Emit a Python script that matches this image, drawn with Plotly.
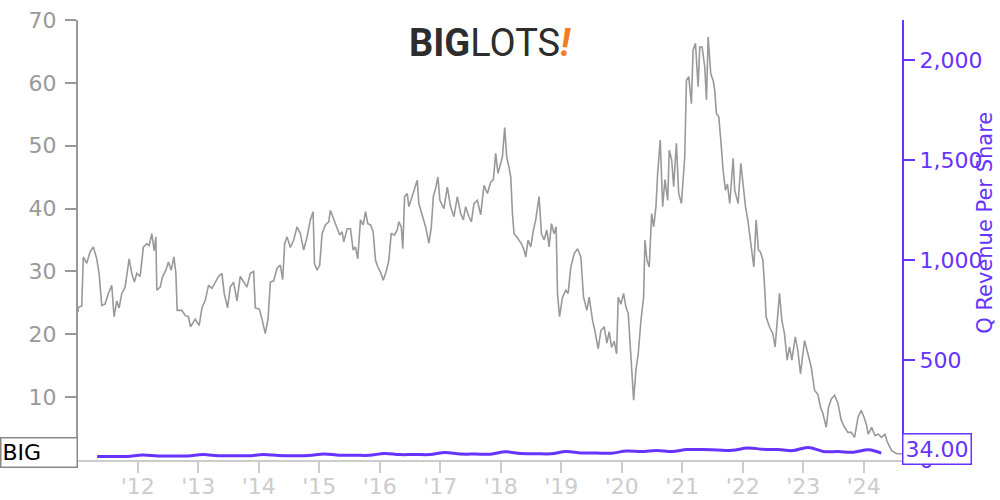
import plotly.graph_objects as go

# Stock price (left axis), x as decimal year
price_t = [2011.013, 2011.018, 2011.075, 2011.101, 2011.157, 2011.212, 2011.267, 2011.323, 2011.361, 2011.406,
           2011.460, 2011.515, 2011.571, 2011.609, 2011.654, 2011.692, 2011.737, 2011.791, 2011.820, 2011.858,
           2011.902, 2011.945, 2011.985, 2012.040, 2012.094, 2012.151, 2012.189, 2012.233, 2012.272, 2012.300,
           2012.316, 2012.371, 2012.409, 2012.465, 2012.508, 2012.553, 2012.598, 2012.631, 2012.652, 2012.730,
           2012.785, 2012.839, 2012.873, 2012.950, 2013.017, 2013.061, 2013.116, 2013.171, 2013.227, 2013.281,
           2013.336, 2013.392, 2013.430, 2013.485, 2013.530, 2013.584, 2013.641, 2013.695, 2013.750, 2013.806,
           2013.861, 2013.916, 2013.944, 2014.010, 2014.055, 2014.109, 2014.154, 2014.192, 2014.247, 2014.303,
           2014.358, 2014.396, 2014.429, 2014.469, 2014.523, 2014.578, 2014.634, 2014.689, 2014.743, 2014.800,
           2014.854, 2014.899, 2014.921, 2014.965, 2015.008, 2015.048, 2015.103, 2015.157, 2015.185, 2015.240,
           2015.296, 2015.339, 2015.379, 2015.406, 2015.462, 2015.517, 2015.561, 2015.599, 2015.637, 2015.682,
           2015.727, 2015.765, 2015.803, 2015.848, 2015.892, 2015.930, 2015.969, 2016.013, 2016.058, 2016.113,
           2016.151, 2016.190, 2016.245, 2016.290, 2016.316, 2016.356, 2016.382, 2016.411, 2016.455, 2016.482,
           2016.526, 2016.565, 2016.621, 2016.647, 2016.704, 2016.758, 2016.813, 2016.853, 2016.886, 2016.924,
           2016.962, 2016.995, 2017.061, 2017.118, 2017.172, 2017.227, 2017.283, 2017.338, 2017.382, 2017.421,
           2017.475, 2017.515, 2017.558, 2017.614, 2017.669, 2017.724, 2017.780, 2017.834, 2017.879, 2017.917,
           2017.955, 2017.988, 2018.028, 2018.066, 2018.099, 2018.137, 2018.166, 2018.194, 2018.220, 2018.265,
           2018.303, 2018.343, 2018.386, 2018.414, 2018.452, 2018.497, 2018.541, 2018.579, 2018.634, 2018.674,
           2018.717, 2018.762, 2018.800, 2018.839, 2018.882, 2018.916, 2018.939, 2018.972, 2019.022, 2019.076,
           2019.114, 2019.159, 2019.214, 2019.270, 2019.325, 2019.369, 2019.424, 2019.462, 2019.518, 2019.556,
           2019.611, 2019.656, 2019.710, 2019.755, 2019.793, 2019.833, 2019.876, 2019.916, 2019.942, 2019.987,
           2020.031, 2020.070, 2020.108, 2020.152, 2020.180, 2020.197, 2020.235, 2020.273, 2020.318, 2020.362,
           2020.384, 2020.417, 2020.455, 2020.495, 2020.528, 2020.566, 2020.594, 2020.637, 2020.677, 2020.715,
           2020.760, 2020.786, 2020.826, 2020.859, 2020.904, 2020.942, 2020.987, 2021.042, 2021.070, 2021.108,
           2021.152, 2021.180, 2021.219, 2021.263, 2021.290, 2021.329, 2021.373, 2021.401, 2021.429, 2021.472,
           2021.512, 2021.538, 2021.566, 2021.604, 2021.638, 2021.676, 2021.715, 2021.748, 2021.786, 2021.842,
           2021.868, 2021.925, 2021.969, 2022.008, 2022.046, 2022.084, 2022.139, 2022.184, 2022.222, 2022.260,
           2022.293, 2022.333, 2022.359, 2022.387, 2022.442, 2022.498, 2022.536, 2022.570, 2022.608, 2022.647,
           2022.690, 2022.735, 2022.773, 2022.813, 2022.868, 2022.912, 2022.955, 2022.995, 2023.022, 2023.078,
           2023.132, 2023.187, 2023.243, 2023.286, 2023.326, 2023.381, 2023.419, 2023.464, 2023.519, 2023.575,
           2023.629, 2023.684, 2023.740, 2023.795, 2023.849, 2023.906, 2023.960, 2024.005, 2024.043, 2024.075,
           2024.131, 2024.185, 2024.240, 2024.296, 2024.351, 2024.389, 2024.462, 2024.545, 2024.630]
price_v = [23.5, 24.3, 24.5, 32.3, 31.3, 33.1, 33.9, 32.0, 29.7, 24.6,
           24.8, 26.5, 27.8, 22.8, 25.3, 24.2, 26.5, 27.5, 29.4, 32.0,
           29.7, 28.3, 29.7, 29.2, 33.9, 34.4, 34.1, 36.0, 33.3, 35.5,
           27.0, 27.5, 29.1, 30.2, 31.5, 30.2, 32.3, 29.7, 23.8, 23.8,
           23.0, 22.8, 21.2, 22.4, 21.4, 24.2, 25.4, 27.8, 27.3, 28.3,
           29.2, 29.7, 26.5, 24.2, 27.5, 28.3, 25.3, 29.2, 28.3, 27.5,
           29.7, 30.0, 24.2, 24.0, 22.4, 20.1, 22.4, 28.3, 28.5, 30.5,
           31.0, 28.7, 34.4, 35.5, 33.8, 35.0, 37.1, 36.0, 33.4, 35.5,
           38.2, 39.5, 31.3, 30.2, 31.0, 36.0, 37.4, 37.9, 39.7, 38.4,
           37.1, 35.8, 36.3, 34.7, 36.8, 36.8, 33.4, 33.9, 32.0, 38.2,
           37.4, 39.5, 37.6, 37.4, 36.3, 31.8, 30.7, 29.9, 28.6, 30.2,
           31.8, 36.0, 35.8, 36.6, 37.9, 37.1, 33.6, 41.9, 42.4, 40.3,
           41.6, 42.9, 44.5, 40.8, 38.7, 37.1, 34.5, 37.1, 41.9, 43.2,
           45.0, 41.3, 40.0, 43.4, 40.3, 38.7, 41.9, 39.2, 38.2, 40.3,
           38.7, 37.9, 40.8, 41.3, 39.0, 43.7, 42.4, 44.2, 44.6, 48.8,
           45.6, 46.6, 48.2, 52.9, 48.2, 46.6, 45.0, 39.2, 36.0, 35.5,
           35.0, 34.4, 33.4, 32.3, 35.0, 33.9, 36.6, 38.2, 41.9, 36.0,
           35.0, 36.6, 33.9, 37.6, 36.0, 37.1, 26.5, 22.8, 25.9, 27.0,
           26.5, 30.7, 32.8, 33.6, 32.3, 25.9, 23.8, 25.9, 22.2, 20.6,
           17.7, 20.6, 21.2, 18.6, 20.4, 17.9, 18.9, 16.9, 25.9, 24.8,
           26.5, 24.3, 23.3, 16.9, 13.7, 9.5, 14.3, 16.9, 22.2, 25.9,
           35.0, 31.8, 30.7, 39.2, 37.1, 40.3, 45.6, 50.9, 40.3, 44.6,
           41.3, 49.3, 47.7, 43.5, 50.4, 42.4, 40.8, 48.2, 60.4, 61.0,
           56.7, 65.2, 66.3, 59.4, 65.7, 65.7, 62.5, 57.3, 67.3, 61.4,
           60.4, 58.8, 55.1, 54.6, 50.9, 46.1, 42.9, 43.9, 40.8, 48.0,
           42.9, 40.8, 47.2, 43.4, 40.3, 38.2, 33.9, 30.7, 38.2, 33.4,
           33.1, 31.8, 28.1, 22.8, 21.2, 20.1, 18.0, 22.2, 26.5, 22.2,
           20.1, 15.9, 18.0, 15.9, 19.6, 17.4, 13.7, 16.9, 19.0, 16.9,
           14.8, 11.1, 10.4, 8.4, 7.4, 5.2, 8.4, 9.7, 10.3, 9.0,
           6.3, 5.2, 4.4, 4.4, 3.6, 6.8, 7.9, 6.8, 5.7, 4.1,
           5.2, 3.9, 4.1, 3.6, 4.1, 2.9, 1.5, 1.0, 1.0]

# Quarterly revenue per share (right axis)
rev_t = [2011.33, 2011.58, 2011.83, 2012.08, 2012.33, 2012.58, 2012.83, 2013.08, 2013.33, 2013.58,
         2013.83, 2014.08, 2014.33, 2014.58, 2014.83, 2015.08, 2015.33, 2015.58, 2015.83, 2016.08,
         2016.33, 2016.58, 2016.83, 2017.08, 2017.33, 2017.58, 2017.83, 2018.08, 2018.33, 2018.58,
         2018.83, 2019.08, 2019.33, 2019.58, 2019.83, 2020.08, 2020.33, 2020.58, 2020.83, 2021.08,
         2021.33, 2021.58, 2021.83, 2022.08, 2022.33, 2022.58, 2022.83, 2023.08, 2023.33, 2023.58,
         2023.83, 2024.08, 2024.29]
rev_v = [17.5, 17.4, 17.8, 24.5, 20.0, 19.8, 20.5, 27.0, 21.5, 21.0,
         21.2, 27.5, 22.0, 21.8, 22.0, 30.0, 24.0, 24.0, 23.5, 33.0,
         27.0, 27.5, 27.0, 38.0, 30.0, 29.5, 29.0, 41.0, 32.0, 31.5,
         31.0, 42.0, 35.0, 35.0, 34.0, 45.0, 42.0, 48.0, 42.0, 52.0,
         52.0, 50.0, 48.5, 60.0, 54.0, 52.0, 47.0, 63.0, 43.0, 42.0,
         39.0, 51.0, 34.0]

year_ticks = list(range(2012, 2025))
year_labels = ["'" + str(y)[2:] for y in year_ticks]
left_ticks = [10, 20, 30, 40, 50, 60, 70]
right_ticks = [0, 500, 1000, 1500, 2000]

PURPLE = "#6633ff"
GREY = "#999999"
LIGHT = "#cccccc"
FONT = "DejaVu Sans"
FS = 22

fig = go.Figure()
fig.add_trace(go.Scatter(x=price_t, y=price_v, mode="lines",
                         line=dict(color=GREY, width=1.6), yaxis="y", showlegend=False))
fig.add_trace(go.Scatter(x=rev_t, y=rev_v, mode="lines",
                         line=dict(color=PURPLE, width=3, shape="spline"), yaxis="y2", showlegend=False))

fig.update_layout(
    width=1000, height=500,
    margin=dict(l=78, r=98, t=20, b=40, autoexpand=False),
    paper_bgcolor="white", plot_bgcolor="white",
    font=dict(family=FONT, size=FS),
    xaxis=dict(range=[2011.013, 2024.633], tickvals=year_ticks, ticktext=year_labels,
               showgrid=False, zeroline=False, showline=True, linecolor=LIGHT, linewidth=2,
               ticks="outside", ticklen=11, tickcolor=LIGHT, tickwidth=2, automargin=False,
               ticklabelstandoff=-5,
               tickfont=dict(color=LIGHT, size=FS, family=FONT)),
    yaxis=dict(range=[0, 70], tickvals=left_ticks, showgrid=False, zeroline=False, automargin=False,
               showline=True, linecolor=GREY, linewidth=2, ticks="outside", ticklen=11,
               ticklabelstandoff=4,
               tickcolor=GREY, tickwidth=1.5, tickfont=dict(color=GREY, size=FS, family=FONT)),
    yaxis2=dict(range=[0, 2200], tickvals=right_ticks, tickformat=",", overlaying="y", side="right",
                showgrid=False, zeroline=False, showline=True, linecolor=PURPLE, linewidth=2,
                ticks="outside", ticklen=11, tickcolor=PURPLE, tickwidth=2, automargin=False,
                tickfont=dict(color=PURPLE, size=FS, family=FONT)),
)

# Right axis title (overlapping tick labels as in the reference)
fig.add_annotation(text="Q Revenue Per Share", textangle=-90, xref="paper", yref="paper",
                   x=1.1007, y=0.539, xanchor="center", yanchor="middle", showarrow=False,
                   font=dict(color=PURPLE, size=21, family=FONT))

# Last value label on right axis
fig.add_annotation(text=f"{rev_v[-1]:.2f}", xref="paper", yref="y2", x=1.0, y=rev_v[-1],
                   xanchor="left", yanchor="middle", yshift=4, showarrow=False,
                   bgcolor="white", bordercolor=PURPLE, borderwidth=1.5, borderpad=2,
                   font=dict(color=PURPLE, size=FS, family=FONT))

# Ticker label on left
fig.add_annotation(text="BIG", xref="paper", yref="paper", x=0.0, y=(460 - 452) / 440,
                   xanchor="right", yanchor="middle", showarrow=False, align="left",
                   width=73, height=26, bgcolor="white", bordercolor="#888888", borderwidth=1.5,
                   borderpad=1, font=dict(color="black", size=FS, family=FONT))

# Logo as text
fig.add_annotation(text="<b>BIG</b>LOTS<span style='color:#f07d1f'><b><i>!</i></b></span>",
                   xref="paper", yref="paper", x=0.5, y=0.948, xanchor="center", yanchor="middle",
                   showarrow=False, font=dict(color="#2d2d2d", size=38, family="Roboto"))

fig.write_html("out.html", config={"displayModeBar": False},
               post_script="document.body.style.margin='0';document.body.style.overflow='hidden';")
